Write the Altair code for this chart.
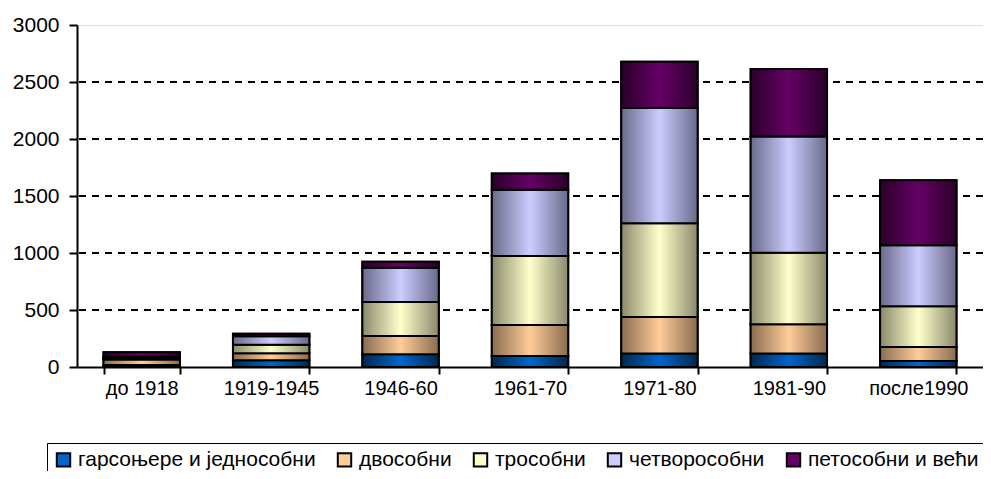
import altair as alt
import pandas as pd

periods = ["до 1918", "1919-1945", "1946-60", "1961-70", "1971-80", "1981-90", "после1990"]
series = ["гарсоњере и једнособни", "двособни", "трособни", "четворособни", "петособни и већи"]

garsonjere = [18, 60, 112, 97, 118, 118, 53]
dvosobni = [48, 60, 160, 272, 321, 257, 123]
trosobni = [15, 75, 298, 604, 821, 627, 357]
cetvorosobni = [8, 75, 301, 582, 1011, 1019, 536]
petosobni = [40, 22, 53, 142, 407, 592, 569]

center_colors = ["#0066CC", "#FFCC99", "#FFFFCC", "#CCCCFF", "#660066"]
edge_colors = ["#00284f", "#8a6c50", "#8a8a6c", "#6a6a8c", "#2a002a"]

grid_values = [500, 1000, 1500, 2000, 2500]
y_ticks = [0, 500, 1000, 1500, 2000, 2500, 3000]

FONT = "Liberation Sans"

all_series = [garsonjere, dvosobni, trosobni, cetvorosobni, petosobni]
rows = []
for i, p in enumerate(periods):
    for j, s in enumerate(series):
        rows.append({"period": p, "series": s, "order": j, "value": all_series[j][i]})
df = pd.DataFrame(rows)
grid_df = pd.DataFrame({"gv": grid_values})

x_enc = alt.X(
    "period:N",
    sort=periods,
    scale=alt.Scale(paddingInner=0.41, paddingOuter=0.205),
    axis=alt.Axis(
        title=None, labelAngle=0, tickBand="extent", labelFont=FONT, labelFontSize=20,
        labelColor="black", domainColor="black", domainWidth=2, tickColor="black",
        tickWidth=2, tickSize=7, labelPadding=4, grid=False,
    ),
)

y_axis = alt.Axis(
    title=None, values=y_ticks, format="d", labelFont=FONT, labelFontSize=21,
    labelColor="black", domainColor="black", domainWidth=2, tickColor="black",
    tickWidth=2, tickSize=8, labelPadding=10, grid=False,
)
y_scale = alt.Scale(domain=[0, 3000], nice=False)

grid = alt.Chart(grid_df).mark_rule(color="black", strokeWidth=2, strokeDash=[7, 6]).encode(
    y=alt.Y("gv:Q", scale=y_scale, axis=y_axis)
)

stacked = alt.Chart(df).transform_stack(
    stack="value", groupby=["period"], as_=["y0", "y1"],
    sort=[alt.SortField("order", "ascending")],
)

base_bars = stacked.mark_bar(stroke="black", strokeWidth=2).encode(
    x=x_enc,
    y=alt.Y("y0:Q", scale=y_scale, axis=y_axis),
    y2="y1:Q",
    color=alt.Color(
        "series:N",
        scale=alt.Scale(domain=series, range=center_colors),
        legend=alt.Legend(
            orient="none", legendX=-30, legendY=418, direction="horizontal", columns=5,
            title=None, symbolType="square", symbolSize=180, symbolStrokeColor="black",
            symbolStrokeWidth=2, labelFontSize=21, labelFont=FONT, labelColor="black",
            strokeColor="black", padding=6, columnPadding=17, labelOffset=4,
            labelLimit=400,
        ),
    ),
)

layers = [grid, base_bars]
for j, s in enumerate(series):
    grad = alt.Gradient(
        gradient="linear", x1=0, x2=1, y1=0, y2=0,
        stops=[
            alt.GradientStop(color=edge_colors[j], offset=0),
            alt.GradientStop(color=center_colors[j], offset=0.5),
            alt.GradientStop(color=edge_colors[j], offset=1),
        ],
    )
    layer = stacked.transform_filter(alt.datum.series == s).mark_bar(
        fill=grad, stroke="black", strokeWidth=2
    ).encode(
        x=x_enc,
        y=alt.Y("y0:Q", scale=y_scale, axis=y_axis),
        y2="y1:Q",
    )
    layers.append(layer)

chart = alt.layer(*layers).properties(
    width=906, height=342,
    autosize=alt.AutoSizeParams(type="none"),
    padding={"left": 69, "top": 17, "right": 0, "bottom": 104},
).configure_view(stroke=None).configure(background="white")

chart.save("out.html", embed_options={"renderer": "svg", "actions": False})
